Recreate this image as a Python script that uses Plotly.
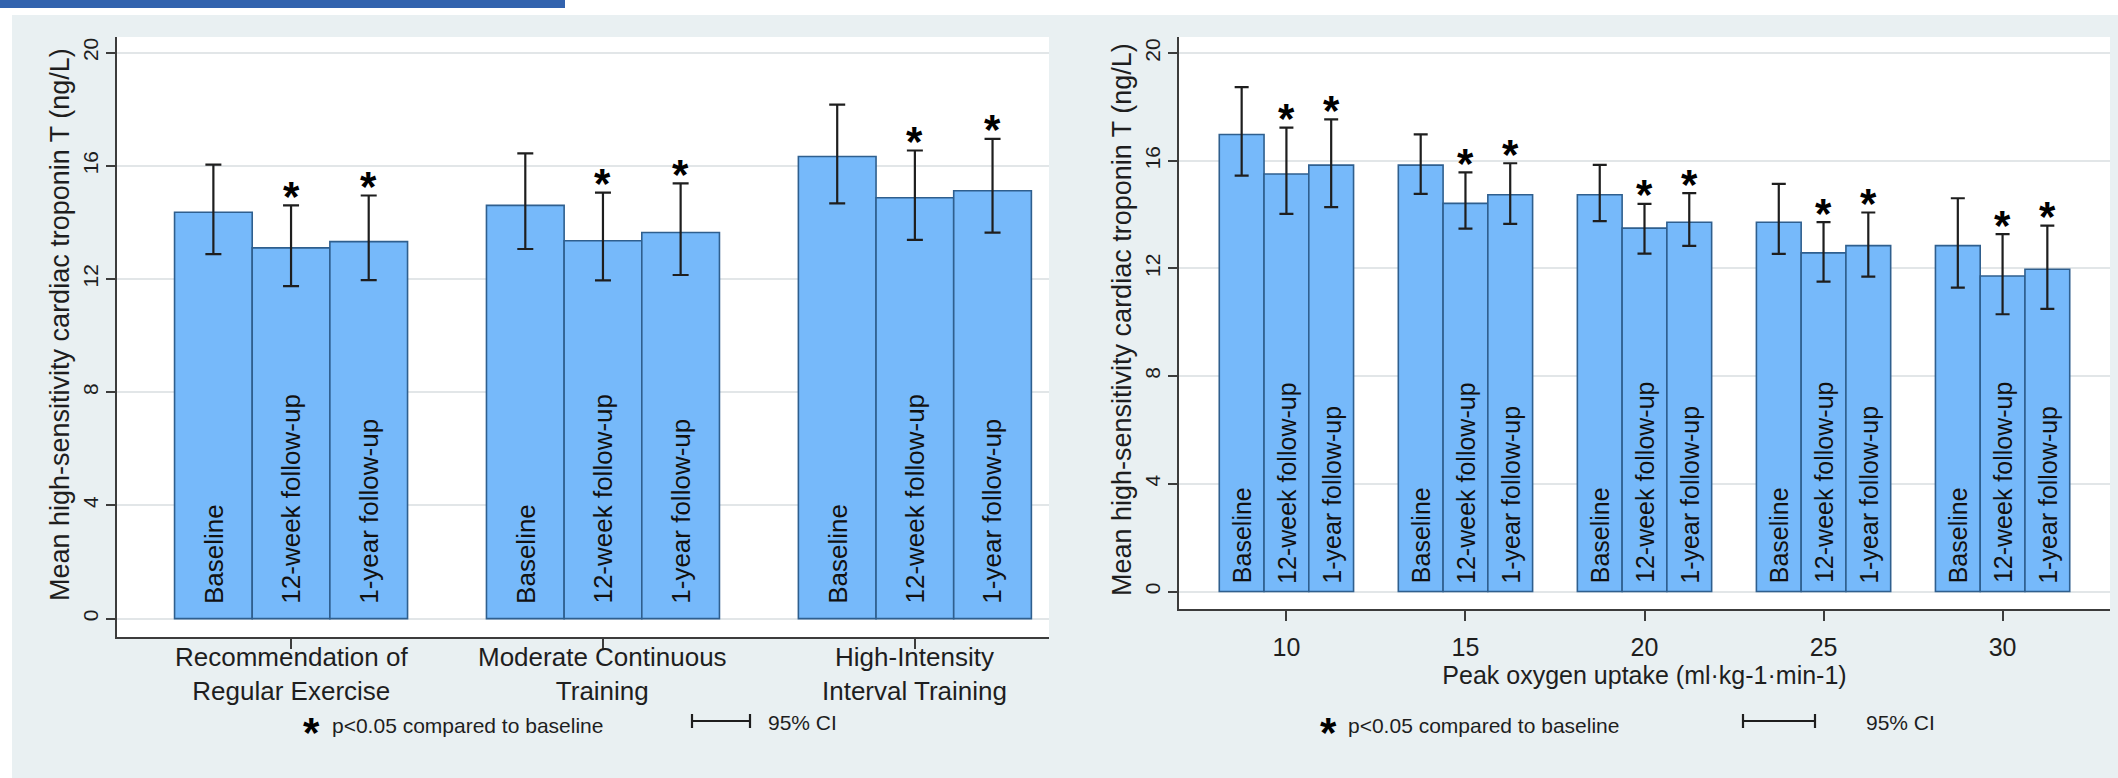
import plotly.graph_objects as go

W, H = 2118, 778
FONT = "Liberation Sans, Arial, Helvetica, sans-serif"

# ---------------- data ----------------
programs = [
    "Recommendation of<br>Regular Exercise",
    "Moderate Continuous<br>Training",
    "High-Intensity<br>Interval Training",
]
timepoints = ["Baseline", "12-week follow-up", "1-year follow-up"]
significant = [False, True, True]  # p<0.05 compared to baseline

prog_mean_baseline = [14.36, 14.60, 16.33]
prog_lo_baseline = [12.88, 13.06, 14.67]
prog_hi_baseline = [16.04, 16.44, 18.16]
prog_mean_12wk = [13.10, 13.35, 14.87]
prog_lo_12wk = [11.75, 11.95, 13.38]
prog_hi_12wk = [14.60, 15.05, 16.54]
prog_mean_1yr = [13.32, 13.64, 15.12]
prog_lo_1yr = [11.96, 12.14, 13.64]
prog_hi_1yr = [14.95, 15.38, 16.95]

vo2_peak = [10, 15, 20, 25, 30]
vo2_mean_baseline = [16.98, 15.84, 14.74, 13.72, 12.85]
vo2_lo_baseline = [15.45, 14.77, 13.76, 12.54, 11.29]
vo2_hi_baseline = [18.74, 16.98, 15.85, 15.14, 14.61]
vo2_mean_12wk = [15.51, 14.42, 13.50, 12.58, 11.72]
vo2_lo_12wk = [14.03, 13.48, 12.55, 11.51, 10.30]
vo2_hi_12wk = [17.23, 15.57, 14.40, 13.72, 13.28]
vo2_mean_1yr = [15.84, 14.74, 13.72, 12.85, 11.97]
vo2_lo_1yr = [14.28, 13.66, 12.84, 11.70, 10.50]
vo2_hi_1yr = [17.54, 15.91, 14.80, 14.08, 13.59]

y_ticks = [0, 4, 8, 12, 16, 20]
y_title = "Mean high-sensitivity cardiac troponin T (ng/L)"
x2_title = "Peak oxygen uptake (ml\u00b7kg-1\u00b7min-1)"
legend_star_text = "p<0.05 compared to baseline"
legend_ci_text = "95% CI"

# ---------------- style ----------------
BAR_FILL = "#76B9FA"
BAR_EDGE = "#2F5F8E"
INK = "#1E1E1E"
AXIS = "#3C3C3C"
GRID = "#E2E6E8"
PANEL_BG = "#E9F0F2"
STAR = "<b>*</b>"
STAR_SIZE = 42


def px(x):
    return x / W


def py(y):
    return 1 - y / H


panel_a = [
    (prog_mean_baseline, prog_lo_baseline, prog_hi_baseline),
    (prog_mean_12wk, prog_lo_12wk, prog_hi_12wk),
    (prog_mean_1yr, prog_lo_1yr, prog_hi_1yr),
]
panel_b = [
    (vo2_mean_baseline, vo2_lo_baseline, vo2_hi_baseline),
    (vo2_mean_12wk, vo2_lo_12wk, vo2_hi_12wk),
    (vo2_mean_1yr, vo2_lo_1yr, vo2_hi_1yr),
]

fig = go.Figure()
annotations = []


def add_panel(centers, series, slot, xa, ya, cap, label_size, label_lift):
    for k, (mean, lo, hi) in enumerate(series):
        xs = [c + (k - 1) * slot for c in centers]
        fig.add_trace(go.Bar(
            x=xs, y=mean, width=slot,
            marker=dict(color=BAR_FILL, line=dict(color=BAR_EDGE, width=1.6)),
            error_y=dict(type="data", symmetric=False,
                         array=[h - m for h, m in zip(hi, mean)],
                         arrayminus=[m - l for m, l in zip(mean, lo)],
                         color=INK, thickness=2.2, width=cap),
            xaxis=xa, yaxis=ya, showlegend=False, hoverinfo="skip",
        ))
        for x, h in zip(xs, hi):
            # time-point label written up from the base of each bar
            annotations.append(dict(
                text=timepoints[k], x=x, y=0, xref=xa, yref=ya,
                xanchor="center", yanchor="bottom", yshift=label_lift, textangle=-90,
                showarrow=False, font=dict(size=label_size, color="#111111"),
            ))
            if significant[k]:
                annotations.append(dict(
                    text=STAR, x=x, y=h, xref=xa, yref=ya,
                    xanchor="center", yanchor="middle", yshift=9,
                    showarrow=False, font=dict(size=STAR_SIZE, color="#000000"),
                ))


add_panel(list(range(len(programs))), panel_a, 0.249, "x", "y", 8, 26, 13)
add_panel(vo2_peak, panel_b, 1.25, "x2", "y2", 7, 25, 6)

# category names under the first panel
for i, name in enumerate(programs):
    annotations.append(dict(
        text=name, x=i, y=py(674), xref="x", yref="paper",
        xanchor="center", yanchor="middle", showarrow=False,
        font=dict(size=26, color=INK),
    ))

axis_common = dict(
    showline=True, linecolor=AXIS, linewidth=2, mirror=False,
    ticks="outside", tickcolor=AXIS, tickwidth=1.6,
    zeroline=False, fixedrange=True,
)

fig.update_layout(
    width=W, height=H,
    margin=dict(l=0, r=0, t=0, b=0),
    paper_bgcolor=PANEL_BG, plot_bgcolor="white",
    font=dict(family=FONT, color=INK),
    xaxis=dict(domain=[px(117), px(1049)], range=[-0.558, 2.43],
               tickvals=list(range(len(programs))), showticklabels=False,
               showgrid=False, ticklen=10, anchor="y", **axis_common),
    yaxis=dict(domain=[py(637), py(37)], range=[-0.65, 20.55],
               tickvals=y_ticks, tickangle=-90, showgrid=True,
               gridcolor=GRID, gridwidth=1.5, ticklen=9,
               tickfont=dict(size=21, color=INK), anchor="x", **axis_common),
    xaxis2=dict(domain=[px(1179), px(2110)], range=[7, 33],
                tickvals=vo2_peak, showgrid=False, ticklen=10,
                ticklabelstandoff=5,
                tickfont=dict(size=25, color=INK),
                title=dict(text=x2_title, font=dict(size=25, color=INK), standoff=4),
                anchor="y2", **axis_common),
    yaxis2=dict(domain=[py(609), py(37)], range=[-0.65, 20.6],
                tickvals=y_ticks, tickangle=-90, showgrid=True,
                gridcolor=GRID, gridwidth=1.5, ticklen=9,
                tickfont=dict(size=21, color=INK), anchor="x2", **axis_common),
)

shapes = [
    # white page strip above the figure and at its left edge
    dict(type="rect", xref="paper", yref="paper", x0=0, x1=1, y0=py(15), y1=1,
         fillcolor="white", line=dict(width=0), layer="below"),
    dict(type="rect", xref="paper", yref="paper", x0=0, x1=px(12), y0=0, y1=1,
         fillcolor="white", line=dict(width=0), layer="below"),
    # header band
    dict(type="rect", xref="paper", yref="paper", x0=0, x1=px(565), y0=py(8), y1=1,
         fillcolor="#3263AE", line=dict(width=0), layer="below"),
]

annotations += [
    dict(text=y_title, x=px(60), y=py(325), xref="paper", yref="paper",
         xanchor="center", yanchor="middle", textangle=-90, showarrow=False,
         font=dict(size=27, color=INK)),
    dict(text=y_title, x=px(1122), y=py(320), xref="paper", yref="paper",
         xanchor="center", yanchor="middle", textangle=-90, showarrow=False,
         font=dict(size=27, color=INK)),
]

# legend keys under each panel: star note and confidence-interval key
for star_x, text_x, ci_x0, ci_x1, ci_text_x in [
    (311, 330, 692, 750, 766),
    (1328, 1346, 1743, 1815, 1864),
]:
    annotations.append(dict(text=STAR, x=px(star_x), y=py(724), xref="paper", yref="paper",
                            xanchor="center", yanchor="middle", yshift=-8,
                            showarrow=False, font=dict(size=STAR_SIZE, color="#000000")))
    annotations.append(dict(text=legend_star_text, x=px(text_x), y=py(725),
                            xref="paper", yref="paper", xanchor="left", yanchor="middle",
                            showarrow=False, font=dict(size=21, color=INK)))
    annotations.append(dict(text=legend_ci_text, x=px(ci_text_x), y=py(722),
                            xref="paper", yref="paper", xanchor="left", yanchor="middle",
                            showarrow=False, font=dict(size=21, color=INK)))
    shapes.append(dict(type="line", xref="paper", yref="paper",
                       x0=px(ci_x0), x1=px(ci_x1), y0=py(721), y1=py(721),
                       line=dict(color=INK, width=2.2)))
    for cx in (ci_x0, ci_x1):
        shapes.append(dict(type="line", xref="paper", yref="paper",
                           x0=px(cx), x1=px(cx), y0=py(714), y1=py(728),
                           line=dict(color=INK, width=2.2)))

fig.update_layout(shapes=shapes, annotations=annotations)

fig.write_html("out.html")
